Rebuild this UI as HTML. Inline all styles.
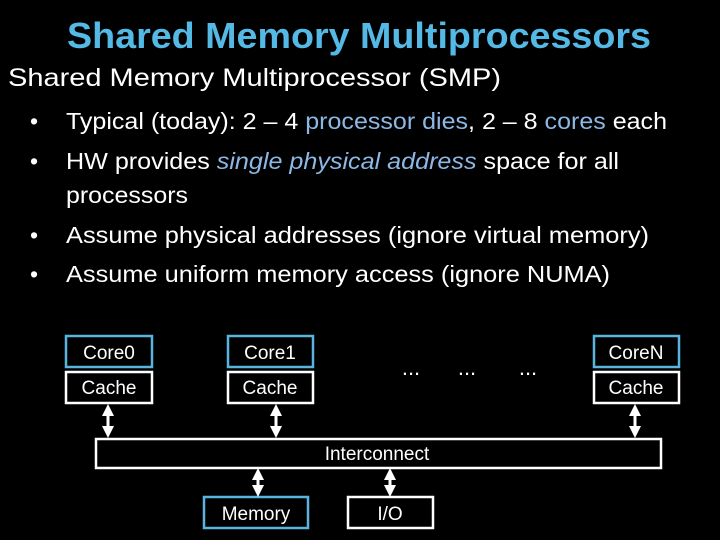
<!DOCTYPE html>
<html><head><meta charset="utf-8"><style>
html,body{margin:0;padding:0;background:#000;width:720px;height:540px;overflow:hidden}
svg{display:block}
text{font-family:"Liberation Sans",sans-serif;fill:#fff}
</style></head><body>
<svg width="720" height="540" viewBox="0 0 720 540" xmlns="http://www.w3.org/2000/svg">
<defs>
<marker id="ah" viewBox="0 0 10 10" refX="5" refY="5" markerWidth="4" markerHeight="4" orient="auto-start-reverse"><path d="M0,0 L10,5 L0,10 z" fill="#fff"/></marker>
</defs>
<rect width="720" height="540" fill="#000"/>
<text x="67" y="48" font-size="36" font-weight="bold" style="fill:#55b9e6" textLength="584" lengthAdjust="spacingAndGlyphs">Shared Memory Multiprocessors</text>
<text x="8" y="86" font-size="25" textLength="493" lengthAdjust="spacingAndGlyphs">Shared Memory Multiprocessor (SMP)</text>
<g font-size="23">
<text x="30" y="129">•</text>
<text x="66" y="129" textLength="601" lengthAdjust="spacingAndGlyphs">Typical (today): 2 – 4 <tspan style="fill:#8cb8e6">processor dies</tspan>, 2 – 8 <tspan style="fill:#8cb8e6">cores</tspan> each</text>
<text x="30" y="169">•</text>
<text x="66" y="169" textLength="553" lengthAdjust="spacingAndGlyphs">HW provides <tspan style="fill:#8cb8e6;font-style:italic">single physical address</tspan> space for all</text>
<text x="66" y="203" textLength="122" lengthAdjust="spacingAndGlyphs">processors</text>
<text x="30" y="243">•</text>
<text x="66" y="243" textLength="583" lengthAdjust="spacingAndGlyphs">Assume physical addresses (ignore virtual memory)</text>
<text x="30" y="282">•</text>
<text x="66" y="282" textLength="544" lengthAdjust="spacingAndGlyphs">Assume uniform memory access (ignore NUMA)</text>
</g>
<g fill="none" stroke-width="2.5">
<rect x="66" y="336" width="86" height="31" stroke="#5ab4e0"/>
<rect x="66" y="372" width="86" height="31" stroke="#fff"/>
<rect x="228" y="336" width="85" height="31" stroke="#5ab4e0"/>
<rect x="228" y="372" width="85" height="31" stroke="#fff"/>
<rect x="594" y="336" width="85" height="31" stroke="#5ab4e0"/>
<rect x="594" y="372" width="85" height="31" stroke="#fff"/>
<rect x="96" y="439" width="565" height="29" stroke="#fff"/>
<rect x="204" y="497" width="104" height="31" stroke="#5ab4e0"/>
<rect x="348" y="497" width="85" height="31" stroke="#fff"/>
</g>
<g font-size="19" text-anchor="middle">
<text x="109" y="359">Core0</text>
<text x="109" y="394">Cache</text>
<text x="270" y="359">Core1</text>
<text x="270" y="394">Cache</text>
<text x="636" y="359">CoreN</text>
<text x="636" y="394">Cache</text>
<text x="377" y="460">Interconnect</text>
<text x="256" y="520">Memory</text>
<text x="390" y="520">I/O</text>
<text x="411" y="375" font-size="22">...</text>
<text x="467" y="375" font-size="22">...</text>
<text x="528" y="375" font-size="22">...</text>
</g>
<g stroke="#fff" stroke-width="3" marker-start="url(#ah)" marker-end="url(#ah)">
<line x1="108" y1="410" x2="108" y2="432"/>
<line x1="276" y1="410" x2="276" y2="432"/>
<line x1="635" y1="410" x2="635" y2="432"/>
<line x1="258" y1="474" x2="258" y2="491"/>
<line x1="390" y1="474" x2="390" y2="491"/>
</g>
</svg>
</body></html>
